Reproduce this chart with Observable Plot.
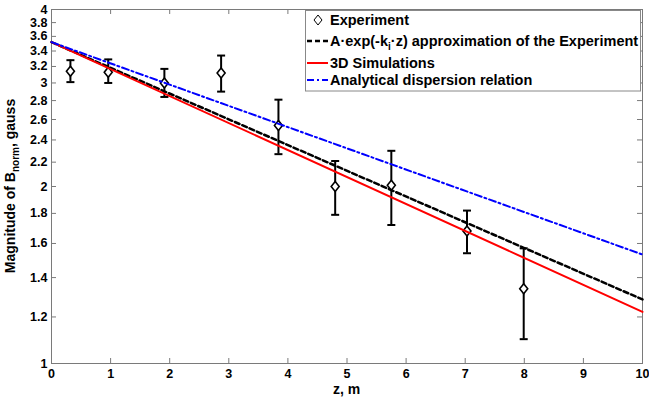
<!DOCTYPE html>
<html><head><meta charset="utf-8">
<script src="https://cdn.jsdelivr.net/npm/d3@7"></script>
<script src="https://cdn.jsdelivr.net/npm/@observablehq/plot@0.6"></script>
<style>
body{margin:0;background:#fff}
#chart svg{display:block}
</style>
</head><body><div id="chart"></div>
<script>
// Experiment (diamonds with error bars)
const zExp  = [0.32, 0.96, 1.91, 2.87, 3.84, 4.80, 5.75, 7.03, 7.99];
const bExp  = [3.14, 3.13, 3.00, 3.12, 2.54, 2.00, 2.01, 1.68, 1.34];
const bLow  = [3.01, 3.00, 2.84, 2.90, 2.27, 1.79, 1.72, 1.54, 1.10];
const bHigh = [3.28, 3.29, 3.17, 3.34, 2.81, 2.21, 2.30, 1.82, 1.57];
// Straight lines on the log axis (end points)
const zLine = [0, 10];
const bFit  = [3.52, 1.285];   // A·exp(-k_i·z) approximation
const bSim  = [3.52, 1.224];   // 3D Simulations
const bAna  = [3.52, 1.532];   // Analytical dispersion relation
// Ticks
const xTicks = [0,1,2,3,4,5,6,7,8,9,10];
const yTicks = [1,1.2,1.4,1.6,1.8,2,2.2,2.4,2.6,2.8,3,3.2,3.4,3.6,3.8,4];

const exp = zExp.map((z,i)=>({z, b:bExp[i], lo:bLow[i], hi:bHigh[i]}));
const line = (arr)=>zLine.map((z,i)=>({z, b:arr[i]}));

const W = 649, H = 398;
const mL = 51, mR = 7, mT = 9, mB = 35;
const innerW = W - mL - mR, innerH = H - mT - mB;
const axisColor = "#7a7a7a";

const diamond = {draw(ctx){ctx.moveTo(0,-5);ctx.lineTo(4,0);ctx.lineTo(0,5);ctx.lineTo(-4,0);ctx.closePath();}};
const cap = {draw(ctx){ctx.moveTo(-4,0);ctx.lineTo(4,0);}};

const chart = Plot.plot({
  width: W, height: H,
  marginLeft: mL, marginRight: mR, marginTop: mT, marginBottom: mB,
  style: {fontFamily: "'Liberation Sans', Arial, sans-serif", fontWeight: "bold", fontSize: "12.5px", background: "#fff", color: "#000"},
  x: {domain: [0, 10]},
  y: {type: "log", domain: [1, 4]},
  marks: [
    Plot.tickX(xTicks, {x: d=>d, insetTop: innerH - 5, stroke: axisColor}),
    Plot.tickX(xTicks, {x: d=>d, insetBottom: innerH - 5, stroke: axisColor}),
    Plot.tickY(yTicks, {y: d=>d, insetRight: innerW - 5, stroke: axisColor}),
    Plot.tickY(yTicks, {y: d=>d, insetLeft: innerW - 5, stroke: axisColor}),
    Plot.frame({stroke: axisColor}),
    Plot.axisX({ticks: xTicks, tickSize: 0, tickPadding: 6, label: null, tickFormat: d=>String(d)}),
    Plot.axisY({ticks: yTicks, tickSize: 0, tickPadding: 4, label: null, tickFormat: d=>String(d)}),
    Plot.ruleX(exp, {x: "z", y1: "lo", y2: "hi", stroke: "#000", strokeWidth: 2}),
    Plot.dot(exp, {x: "z", y: "lo", symbol: cap, fill: "none", stroke: "#000", strokeWidth: 2}),
    Plot.dot(exp, {x: "z", y: "hi", symbol: cap, fill: "none", stroke: "#000", strokeWidth: 2}),
    Plot.dot(exp, {x: "z", y: "b", symbol: diamond, fill: "#fff", stroke: "#000", strokeWidth: 1.6}),
    Plot.line(line(bFit), {x: "z", y: "b", stroke: "#000", strokeWidth: 2.5, strokeDasharray: "5,3"}),
    Plot.line(line(bSim), {x: "z", y: "b", stroke: "#ff0000", strokeWidth: 2}),
    Plot.line(line(bAna), {x: "z", y: "b", stroke: "#0000ff", strokeWidth: 2, strokeDasharray: "7,3,2,3"})
  ]
});
document.getElementById("chart").append(chart);

const svg = d3.select(chart);
const font = "'Liberation Sans', Arial, sans-serif";

// Axis titles
const yl = svg.append("text")
  .attr("transform", `translate(15,${mT + innerH/2}) rotate(-90)`)
  .attr("text-anchor", "middle")
  .attr("font-family", font).attr("font-weight", "bold").attr("font-size", 14).attr("fill", "#000");
yl.append("tspan").text("Magnitude of B");
yl.append("tspan").attr("font-size", 10).attr("dy", 4).text("norm");
yl.append("tspan").attr("dy", -4).text(", gauss");

svg.append("text")
  .attr("x", mL + innerW/2).attr("y", 394)
  .attr("text-anchor", "middle")
  .attr("font-family", font).attr("font-weight", "bold").attr("font-size", 14).attr("fill", "#000")
  .text("z, m");

// Legend
const lg = svg.append("g");
lg.append("rect").attr("x", 305.5).attr("y", 10.5).attr("width", 335).attr("height", 80.5)
  .attr("fill", "#fff").attr("stroke", "#888").attr("stroke-width", 1);
const lx0 = 307, lx1 = 328, tx = 330;
const rows = [25, 46, 68, 85];
lg.append("path").attr("d", `M318,${rows[0]-10}L322,${rows[0]-5}L318,${rows[0]}L314,${rows[0]-5}Z`)
  .attr("fill", "#fff").attr("stroke", "#000").attr("stroke-width", 1);
lg.append("line").attr("x1", lx0).attr("x2", lx1).attr("y1", rows[1]-5).attr("y2", rows[1]-5)
  .attr("stroke", "#000").attr("stroke-width", 2.5).attr("stroke-dasharray", "5,3");
lg.append("line").attr("x1", lx0).attr("x2", lx1).attr("y1", rows[2]-5).attr("y2", rows[2]-5)
  .attr("stroke", "#ff0000").attr("stroke-width", 2);
lg.append("line").attr("x1", lx0).attr("x2", lx1).attr("y1", rows[3]-5).attr("y2", rows[3]-5)
  .attr("stroke", "#0000ff").attr("stroke-width", 2).attr("stroke-dasharray", "7,3,2,3");
const lt = (y)=>lg.append("text").attr("x", tx).attr("y", y).attr("text-anchor", "start")
  .attr("font-family", font).attr("font-weight", "bold").attr("font-size", 14.5).attr("fill", "#000");
lt(rows[0]).text("Experiment");
const t2 = lt(rows[1]);
t2.append("tspan").text("A·exp(-k");
t2.append("tspan").attr("font-size", 10).attr("dy", 4).text("i");
t2.append("tspan").attr("dy", -4).text("·z) approximation of the Experiment");
lt(rows[2]).text("3D Simulations");
lt(rows[3]).text("Analytical dispersion relation");
</script>
</body></html>
